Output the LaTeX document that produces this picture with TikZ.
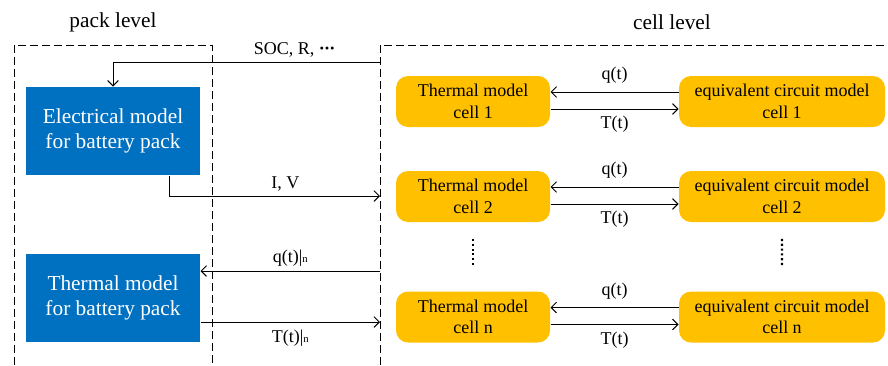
\documentclass[tikz,border=0pt]{standalone}
\usepackage{fontspec}
\setmainfont{Liberation Serif}
\usepackage{xcolor}
\usetikzlibrary{arrows,arrows.meta,positioning,calc}

\definecolor{packblue}{HTML}{0070C0}
\definecolor{cellgold}{HTML}{FFC000}

\tikzset{
  packbox/.style={rectangle,fill=packblue,text=white,inner sep=0pt,
    minimum width=130.5pt,minimum height=66pt,align=center,
    font=\fontsize{16}{19.25}\selectfont},
  cellbox/.style={rectangle,rounded corners=9pt,fill=cellgold,inner sep=0pt,
    minimum height=38.25pt,align=center,font=\fontsize{13.5}{16.25}\selectfont},
  lbl/.style={font=\fontsize{13.5}{16}\selectfont,inner sep=3pt},
  level/.style={dash pattern=on 6pt off 3pt},
  title/.style={font=\fontsize{16}{19}\selectfont},
}

\begin{document}
\begin{tikzpicture}[x=0.75pt,y=-0.75pt,line width=0.75pt,
    >={Straight Barb[length=4pt,width=8pt]}]
  \useasboundingbox (0,0) rectangle (888,365);

  % the two dashed frames
  \draw[level] (14,365) |- (212,45) -- (212,365);
  \draw[level] (380,365) |- (888,45);
  \node[title] (packlvl) at (113,22) {pack level};
  \node[title] (celllvl) at (672,22) {cell level};

  % pack level models
  \node[packbox] (elec) at (113,131) {Electrical model\\for battery pack};
  \node[packbox] (ptherm) at (113,298) {Thermal model\\for battery pack};

  % where the signals cross the cell level frame
  \coordinate (socin) at (380,62);
  \coordinate (ivout) at (380,196);
  \coordinate (qin) at (380,271);
  \coordinate (tout) at (380,322);

  \draw[->] (socin) -| node[lbl,above,pos=0.16]
    {SOC, R, \textbf{\textperiodcentered\kern-0.04em\textperiodcentered\kern-0.04em\textperiodcentered}} (elec.north);
  \draw[->] ([xshift=-23.25pt]elec.south east) |- node[lbl,above,pos=0.775] {I, V} (ivout);
  \draw[->] (qin) -- node[lbl,above] {q(t)|{\footnotesize n}} (qin -| ptherm.east);
  \draw[->] (ptherm.east |- tout) -- node[lbl,below,inner sep=6pt] {T(t)|{\footnotesize n}} (tout);

  % cell level: one pair of models per cell
  \foreach \i/\y in {1/101.5,2/196.5,n/317}{
    \node[cellbox,minimum width=115.5pt] (th\i) at (473,\y) {Thermal model\\cell \i};
    \node[cellbox,minimum width=154.5pt] (ec\i) at (782,\y) {equivalent circuit model\\cell \i};
    \draw[->] ([yshift=7.125pt]ec\i.west) -- node[lbl,above,inner sep=6pt] {q(t)} ([yshift=7.125pt]th\i.east);
    \draw[->] ([yshift=-5.625pt]th\i.east) -- node[lbl,below,inner sep=5pt] {T(t)} ([yshift=-5.625pt]ec\i.west);
  }

  % more cells in between
  \draw[dotted,line width=1.6pt] ($(th2.south)!0.24!(thn.north)$) -- ($(th2.south)!0.66!(thn.north)$);
  \draw[dotted,line width=1.6pt] ($(ec2.south)!0.24!(ecn.north)$) -- ($(ec2.south)!0.66!(ecn.north)$);
\end{tikzpicture}
\end{document}
